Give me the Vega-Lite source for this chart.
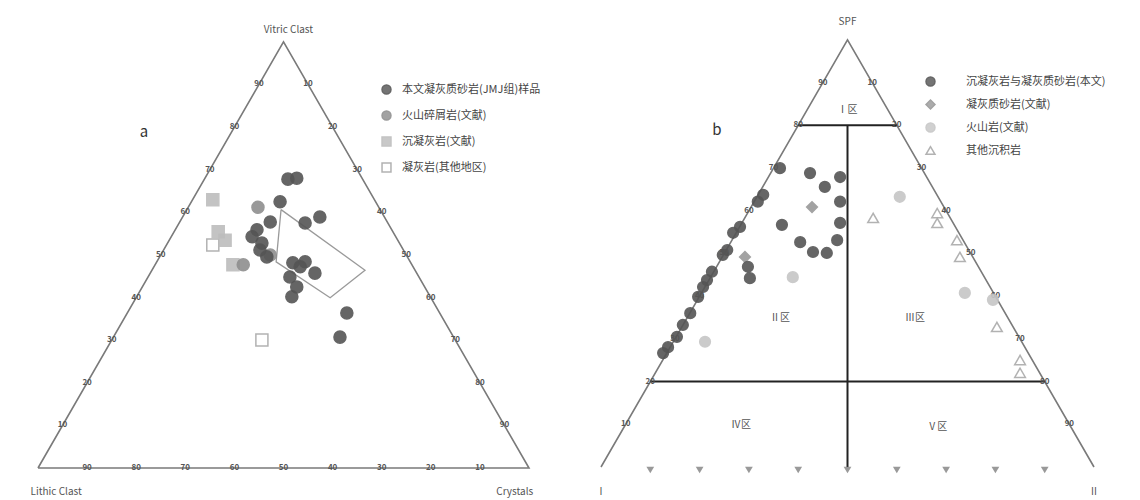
{
  "$schema": "https://vega.github.io/schema/vega-lite/v6.json",
  "padding": 0,
  "spacing": 0,
  "bounds": "flush",
  "background": "white",
  "config": {"view": {"stroke": null}, "font": "Noto Sans CJK SC"},
  "datasets": {
    "triA": [{"x":0,"y":0,"o":1},{"x":100,"y":0,"o":2},{"x":50,"y":86.6,"o":3},{"x":0,"y":0,"o":4}],
    "polyA": [{"x":49.5,"y":52.5,"o":1},{"x":66.6,"y":40.2,"o":2},{"x":59.5,"y":34.6,"o":3},{"x":48.5,"y":41.9,"o":4},{"x":49.5,"y":52.5,"o":5}],
    "ticksA": [
      {"x":5,"y":8.66,"t":"10"},{"x":10,"y":17.32,"t":"20"},{"x":15,"y":25.98,"t":"30"},{"x":20,"y":34.64,"t":"40"},{"x":25,"y":43.3,"t":"50"},{"x":30,"y":51.96,"t":"60"},{"x":35,"y":60.62,"t":"70"},{"x":40,"y":69.28,"t":"80"},{"x":45,"y":77.94,"t":"90"},
      {"x":95,"y":8.66,"t":"90"},{"x":90,"y":17.32,"t":"80"},{"x":85,"y":25.98,"t":"70"},{"x":80,"y":34.64,"t":"60"},{"x":75,"y":43.3,"t":"50"},{"x":70,"y":51.96,"t":"40"},{"x":65,"y":60.62,"t":"30"},{"x":60,"y":69.28,"t":"20"},{"x":55,"y":77.94,"t":"10"},
      {"x":10,"y":0,"t":"90"},{"x":20,"y":0,"t":"80"},{"x":30,"y":0,"t":"70"},{"x":40,"y":0,"t":"60"},{"x":50,"y":0,"t":"50"},{"x":60,"y":0,"t":"40"},{"x":70,"y":0,"t":"30"},{"x":80,"y":0,"t":"20"},{"x":90,"y":0,"t":"10"}
    ],
    "ptsA": [
      {"x":45.6,"y":26.0,"g":"凝灰岩(其他地区)"},
      {"x":35.6,"y":45.3,"g":"凝灰岩(其他地区)"},
      {"x":35.6,"y":54.5,"g":"沉凝灰岩(文献)"},
      {"x":36.7,"y":48.0,"g":"沉凝灰岩(文献)"},
      {"x":38.1,"y":46.3,"g":"沉凝灰岩(文献)"},
      {"x":39.7,"y":41.3,"g":"沉凝灰岩(文献)"},
      {"x":44.8,"y":53.0,"g":"火山碎屑岩(文献)"},
      {"x":41.8,"y":41.3,"g":"火山碎屑岩(文献)"},
      {"x":47.3,"y":43.3,"g":"火山碎屑岩(文献)"},
      {"x":50.9,"y":58.7,"g":"本文凝灰质砂岩(JMJ组)样品"},
      {"x":52.7,"y":58.9,"g":"本文凝灰质砂岩(JMJ组)样品"},
      {"x":49.3,"y":54.1,"g":"本文凝灰质砂岩(JMJ组)样品"},
      {"x":57.4,"y":51.0,"g":"本文凝灰质砂岩(JMJ组)样品"},
      {"x":54.4,"y":49.8,"g":"本文凝灰质砂岩(JMJ组)样品"},
      {"x":47.3,"y":50.0,"g":"本文凝灰质砂岩(JMJ组)样品"},
      {"x":44.6,"y":48.4,"g":"本文凝灰质砂岩(JMJ组)样品"},
      {"x":43.6,"y":47.0,"g":"本文凝灰质砂岩(JMJ组)样品"},
      {"x":45.6,"y":45.7,"g":"本文凝灰质砂岩(JMJ组)样品"},
      {"x":45.2,"y":44.3,"g":"本文凝灰质砂岩(JMJ组)样品"},
      {"x":46.6,"y":42.9,"g":"本文凝灰质砂岩(JMJ组)样品"},
      {"x":51.9,"y":41.7,"g":"本文凝灰质砂岩(JMJ组)样品"},
      {"x":54.4,"y":41.9,"g":"本文凝灰质砂岩(JMJ组)样品"},
      {"x":53.4,"y":40.9,"g":"本文凝灰质砂岩(JMJ组)样品"},
      {"x":56.4,"y":39.6,"g":"本文凝灰质砂岩(JMJ组)样品"},
      {"x":51.3,"y":38.8,"g":"本文凝灰质砂岩(JMJ组)样品"},
      {"x":52.7,"y":36.8,"g":"本文凝灰质砂岩(JMJ组)样品"},
      {"x":51.7,"y":34.8,"g":"本文凝灰质砂岩(JMJ组)样品"},
      {"x":62.9,"y":31.5,"g":"本文凝灰质砂岩(JMJ组)样品"},
      {"x":61.5,"y":26.6,"g":"本文凝灰质砂岩(JMJ组)样品"}
    ],
    "vertA": [{"x":51,"y":89.0,"t":"Vitric Clast"},{"x":3.7,"y":-4.9,"t":"Lithic Clast"},{"x":97.1,"y":-4.9,"t":"Crystals"}],
    "letA": [{"x":21.6,"y":68.3,"t":"a"}],
    "triB": [{"x":0,"y":0,"o":1},{"x":50,"y":86.6,"o":2},{"x":100,"y":0,"o":3}],
    "gridB": [
      {"s":"top","x":40,"y":69.28,"o":1},{"s":"top","x":60,"y":69.28,"o":2},
      {"s":"vert","x":50,"y":69.28,"o":1},{"s":"vert","x":50,"y":0,"o":2},
      {"s":"bot","x":10,"y":17.32,"o":1},{"s":"bot","x":90,"y":17.32,"o":2}
    ],
    "ticksB": [
      {"x":5,"y":8.66,"t":"10"},{"x":10,"y":17.32,"t":"20"},{"x":15,"y":25.98,"t":"30"},{"x":20,"y":34.64,"t":"40"},{"x":25,"y":43.3,"t":"50"},{"x":30,"y":51.96,"t":"60"},{"x":35,"y":60.62,"t":"70"},{"x":40,"y":69.28,"t":"80"},{"x":45,"y":77.94,"t":"90"},
      {"x":95,"y":8.66,"t":"90"},{"x":90,"y":17.32,"t":"80"},{"x":85,"y":25.98,"t":"70"},{"x":80,"y":34.64,"t":"60"},{"x":75,"y":43.3,"t":"50"},{"x":70,"y":51.96,"t":"40"},{"x":65,"y":60.62,"t":"30"},{"x":60,"y":69.28,"t":"20"},{"x":55,"y":77.94,"t":"10"}
    ],
    "botB": [{"x":10,"y":0},{"x":20,"y":0},{"x":30,"y":0},{"x":40,"y":0},{"x":50,"y":0},{"x":60,"y":0},{"x":70,"y":0},{"x":80,"y":0},{"x":90,"y":0}],
    "ptsB": [
      {"x":55.2,"y":50.5,"g":"其他沉积岩"},
      {"x":68.2,"y":51.5,"g":"其他沉积岩"},
      {"x":68.2,"y":49.5,"g":"其他沉积岩"},
      {"x":72.2,"y":46.0,"g":"其他沉积岩"},
      {"x":72.8,"y":42.6,"g":"其他沉积岩"},
      {"x":80.3,"y":28.4,"g":"其他沉积岩"},
      {"x":85.0,"y":21.7,"g":"其他沉积岩"},
      {"x":85.0,"y":19.1,"g":"其他沉积岩"},
      {"x":38.9,"y":38.5,"g":"火山岩(文献)"},
      {"x":21.1,"y":25.4,"g":"火山岩(文献)"},
      {"x":60.6,"y":54.8,"g":"火山岩(文献)"},
      {"x":73.8,"y":35.3,"g":"火山岩(文献)"},
      {"x":79.5,"y":33.9,"g":"火山岩(文献)"},
      {"x":42.8,"y":52.7,"g":"凝灰质砂岩(文献)"},
      {"x":29.2,"y":42.6,"g":"凝灰质砂岩(文献)"},
      {"x":36.3,"y":60.6,"g":"沉凝灰岩与凝灰质砂岩(本文)"},
      {"x":32.9,"y":55.2,"g":"沉凝灰岩与凝灰质砂岩(本文)"},
      {"x":31.8,"y":53.8,"g":"沉凝灰岩与凝灰质砂岩(本文)"},
      {"x":28.2,"y":48.7,"g":"沉凝灰岩与凝灰质砂岩(本文)"},
      {"x":26.8,"y":47.5,"g":"沉凝灰岩与凝灰质砂岩(本文)"},
      {"x":25.6,"y":44.0,"g":"沉凝灰岩与凝灰质砂岩(本文)"},
      {"x":24.7,"y":43.0,"g":"沉凝灰岩与凝灰质砂岩(本文)"},
      {"x":22.5,"y":39.6,"g":"沉凝灰岩与凝灰质砂岩(本文)"},
      {"x":21.5,"y":37.9,"g":"沉凝灰岩与凝灰质砂岩(本文)"},
      {"x":20.7,"y":36.5,"g":"沉凝灰岩与凝灰质砂岩(本文)"},
      {"x":19.7,"y":34.5,"g":"沉凝灰岩与凝灰质砂岩(本文)"},
      {"x":18.1,"y":31.2,"g":"沉凝灰岩与凝灰质砂岩(本文)"},
      {"x":16.6,"y":28.8,"g":"沉凝灰岩与凝灰质砂岩(本文)"},
      {"x":15.4,"y":26.4,"g":"沉凝灰岩与凝灰质砂岩(本文)"},
      {"x":13.6,"y":24.3,"g":"沉凝灰岩与凝灰质砂岩(本文)"},
      {"x":12.6,"y":23.1,"g":"沉凝灰岩与凝灰质砂岩(本文)"},
      {"x":42.4,"y":59.6,"g":"沉凝灰岩与凝灰质砂岩(本文)"},
      {"x":45.4,"y":56.8,"g":"沉凝灰岩与凝灰质砂岩(本文)"},
      {"x":48.5,"y":58.8,"g":"沉凝灰岩与凝灰质砂岩(本文)"},
      {"x":48.5,"y":53.8,"g":"沉凝灰岩与凝灰质砂岩(本文)"},
      {"x":36.7,"y":49.1,"g":"沉凝灰岩与凝灰质砂岩(本文)"},
      {"x":40.4,"y":45.6,"g":"沉凝灰岩与凝灰质砂岩(本文)"},
      {"x":43.0,"y":43.6,"g":"沉凝灰岩与凝灰质砂岩(本文)"},
      {"x":45.8,"y":43.4,"g":"沉凝灰岩与凝灰质砂岩(本文)"},
      {"x":47.9,"y":46.0,"g":"沉凝灰岩与凝灰质砂岩(本文)"},
      {"x":48.5,"y":49.5,"g":"沉凝灰岩与凝灰质砂岩(本文)"},
      {"x":29.8,"y":40.6,"g":"沉凝灰岩与凝灰质砂岩(本文)"},
      {"x":30.2,"y":38.3,"g":"沉凝灰岩与凝灰质砂岩(本文)"}
    ],
    "vertB": [{"x":50,"y":90.3,"t":"SPF"},{"x":0,"y":-5.1,"t":"I"},{"x":100,"y":-5.1,"t":"II"}],
    "regB": [{"x":50,"y":72.4,"t":"Ⅰ区"},{"x":36.3,"y":30.2,"t":"Ⅱ区"},{"x":63.7,"y":30.2,"t":"Ⅲ区"},{"x":28.4,"y":8.5,"t":"Ⅳ区"},{"x":68.2,"y":8.1,"t":"Ⅴ区"}],
    "letB": [{"x":23.5,"y":68.4,"t":"b"}]
  },
  "hconcat": [
    {
      "width": 570,
      "height": 500,
      "encoding": {
        "x": {"field":"x","type":"quantitative","scale":{"domain":[-7.74,108.35],"nice":false,"zero":false},"axis":null},
        "y": {"field":"y","type":"quantitative","scale":{"domain":[-6.5,95.1],"nice":false,"zero":false},"axis":null}
      },
      "layer": [
        {"data":{"name":"triA"},"mark":{"type":"line","color":"#7a7a7a","strokeWidth":1.6},"encoding":{"order":{"field":"o","type":"quantitative"}}},
        {"data":{"name":"polyA"},"mark":{"type":"line","color":"#9a9a9a","strokeWidth":1.3},"encoding":{"order":{"field":"o","type":"quantitative"}}},
        {"data":{"name":"ticksA"},"mark":{"type":"text","fontSize":8,"color":"#555555","fontWeight":"bold"},"encoding":{"text":{"field":"t"}}},
        {"data":{"name":"ptsA"},"mark":{"type":"point","size":145,"strokeWidth":1.5,"opacity":0.9},
          "encoding":{
            "shape":{"field":"g","type":"nominal","scale":{"domain":["本文凝灰质砂岩(JMJ组)样品","火山碎屑岩(文献)","沉凝灰岩(文献)","凝灰岩(其他地区)"],"range":["circle","circle","square","square"]},"legend":{"orient":"none","legendX":381,"legendY":84,"title":null,"labelFontSize":11,"labelColor":"#444444","labelLimit":300,"rowPadding":11,"labelOffset":10,"symbolSize":80,"padding":0}},
            "fill":{"field":"g","type":"nominal","scale":{"domain":["本文凝灰质砂岩(JMJ组)样品","火山碎屑岩(文献)","沉凝灰岩(文献)","凝灰岩(其他地区)"],"range":["#555555","#8e8e8e","#bdbdbd","#ffffff"]},"legend":{"orient":"none","legendX":381,"legendY":84,"title":null,"labelFontSize":11,"labelColor":"#444444","labelLimit":300,"rowPadding":11,"labelOffset":10,"symbolSize":80,"padding":0}},
            "stroke":{"field":"g","type":"nominal","scale":{"domain":["本文凝灰质砂岩(JMJ组)样品","火山碎屑岩(文献)","沉凝灰岩(文献)","凝灰岩(其他地区)"],"range":["#555555","#8e8e8e","#bdbdbd","#aaaaaa"]},"legend":{"orient":"none","legendX":381,"legendY":84,"title":null,"labelFontSize":11,"labelColor":"#444444","labelLimit":300,"rowPadding":11,"labelOffset":10,"symbolSize":80,"padding":0}}
          }},
        {"data":{"name":"vertA"},"mark":{"type":"text","fontSize":10,"color":"#555555"},"encoding":{"text":{"field":"t"}}},
        {"data":{"name":"letA"},"mark":{"type":"text","fontSize":15,"color":"#333333","fontFamily":"Liberation Serif"},"encoding":{"text":{"field":"t"}}}
      ]
    },
    {
      "width": 570,
      "height": 500,
      "encoding": {
        "x": {"field":"x","type":"quantitative","scale":{"domain":[-6.29,109.33],"nice":false,"zero":false},"axis":null},
        "y": {"field":"y","type":"quantitative","scale":{"domain":[-6.69,94.7],"nice":false,"zero":false},"axis":null}
      },
      "layer": [
        {"data":{"name":"triB"},"mark":{"type":"line","color":"#7a7a7a","strokeWidth":1.6},"encoding":{"order":{"field":"o","type":"quantitative"}}},
        {"data":{"name":"gridB"},"mark":{"type":"line","color":"#222222","strokeWidth":2},"encoding":{"detail":{"field":"s"},"order":{"field":"o","type":"quantitative"}}},
        {"data":{"name":"ticksB"},"mark":{"type":"text","fontSize":8,"color":"#555555","fontWeight":"bold"},"encoding":{"text":{"field":"t"}}},
        {"data":{"name":"botB"},"mark":{"type":"point","shape":"triangle-down","filled":true,"size":60,"color":"#6e6e6e","yOffset":3}},
        {"data":{"name":"ptsB"},"mark":{"type":"point","size":115,"strokeWidth":1.5,"opacity":0.9},
          "encoding":{
            "shape":{"field":"g","type":"nominal","scale":{"domain":["沉凝灰岩与凝灰质砂岩(本文)","凝灰质砂岩(文献)","火山岩(文献)","其他沉积岩"],"range":["circle","diamond","circle","triangle-up"]},"legend":{"orient":"none","legendX":355,"legendY":76,"title":null,"labelFontSize":11,"labelColor":"#444444","labelLimit":300,"rowPadding":8,"labelOffset":30,"symbolSize":80,"padding":0}},
            "fill":{"field":"g","type":"nominal","scale":{"domain":["沉凝灰岩与凝灰质砂岩(本文)","凝灰质砂岩(文献)","火山岩(文献)","其他沉积岩"],"range":["#555555","#999999","#c6c6c6","#ffffff"]},"legend":{"orient":"none","legendX":355,"legendY":76,"title":null,"labelFontSize":11,"labelColor":"#444444","labelLimit":300,"rowPadding":8,"labelOffset":30,"symbolSize":80,"padding":0}},
            "stroke":{"field":"g","type":"nominal","scale":{"domain":["沉凝灰岩与凝灰质砂岩(本文)","凝灰质砂岩(文献)","火山岩(文献)","其他沉积岩"],"range":["#555555","#999999","#c6c6c6","#aaaaaa"]},"legend":{"orient":"none","legendX":355,"legendY":76,"title":null,"labelFontSize":11,"labelColor":"#444444","labelLimit":300,"rowPadding":8,"labelOffset":30,"symbolSize":80,"padding":0}}
          }},
        {"data":{"name":"regB"},"mark":{"type":"text","fontSize":10,"color":"#555555"},"encoding":{"text":{"field":"t"}}},
        {"data":{"name":"vertB"},"mark":{"type":"text","fontSize":10,"color":"#555555"},"encoding":{"text":{"field":"t"}}},
        {"data":{"name":"letB"},"mark":{"type":"text","fontSize":15,"color":"#333333","fontFamily":"Liberation Serif"},"encoding":{"text":{"field":"t"}}}
      ]
    }
  ],
  "resolve": {
    "scale": {"x":"independent","y":"independent","shape":"independent","fill":"independent","stroke":"independent"},
    "legend": {"shape":"independent","fill":"independent","stroke":"independent"}
  }
}
